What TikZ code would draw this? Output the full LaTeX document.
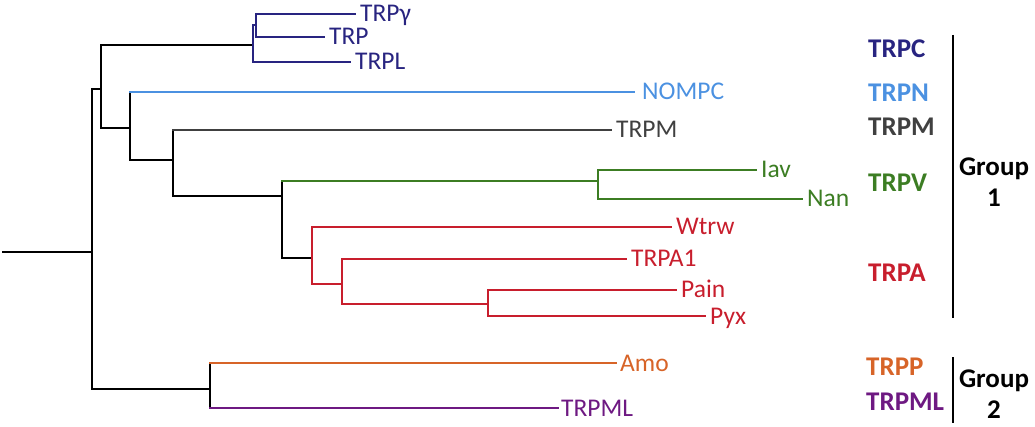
\documentclass[tikz,border=0pt]{standalone}
\usepackage{fontspec}
\setmainfont{Carlito}
\definecolor{cnavy}{RGB}{40,36,128}
\definecolor{cblue}{RGB}{75,145,225}
\definecolor{cgray}{RGB}{64,64,64}
\definecolor{cgreen}{RGB}{60,125,35}
\definecolor{cred}{RGB}{200,30,45}
\definecolor{corange}{RGB}{215,100,40}
\definecolor{cpurple}{RGB}{110,25,130}
\tikzset{
  br/.style={line width=2.2pt, line cap=rect},
  leaf/.style={anchor=west, inner xsep=5pt, inner ysep=0pt, text height=16pt, text depth=0pt, font=\fontsize{25.5}{30}\selectfont},
  clade/.style={anchor=west, inner sep=0pt, text height=17pt, text depth=0pt, font=\fontsize{27}{31}\selectfont\bfseries},
  grp/.style={align=center, inner sep=0pt, font=\fontsize{27}{31.5}\selectfont\bfseries},
  gline/.style={line width=2.2pt}
}
\begin{document}
\begin{tikzpicture}[x=1pt,y=-1pt]
\useasboundingbox (0,0) rectangle (1035,427);
% internal nodes
\coordinate (stub) at (3,252);
\coordinate (r) at (92,252);
\coordinate (a) at (101,89);
\coordinate (g2) at (210,389);
\coordinate (c) at (253,45);
\coordinate (cg) at (256,25);
\coordinate (b) at (130,128);
\coordinate (m) at (173,160);
\coordinate (va) at (282,196);
\coordinate (v) at (598,181);
\coordinate (a1) at (312,258);
\coordinate (a2) at (342,284);
\coordinate (p) at (488,304);
% leaves
\node[leaf, text=cnavy] (trpg) at (355,14) {TRPγ};
\node[leaf, text=cnavy] (trp) at (324,37) {TRP};
\node[leaf, text=cnavy] (trpl) at (350,62) {TRPL};
\node[leaf, text=cblue, inner xsep=8pt] (nompc) at (634,92) {NOMPC};
\node[leaf, text=cgray] (trpm) at (611,130) {TRPM};
\node[leaf, text=cgreen] (iav) at (756,170) {Iav};
\node[leaf, text=cgreen] (nan) at (802,199) {Nan};
\node[leaf, text=cred] (wtrw) at (671,227) {Wtrw};
\node[leaf, text=cred] (trpa1) at (626,259) {TRPA1};
\node[leaf, text=cred] (pain) at (676,290) {Pain};
\node[leaf, text=cred] (pyx) at (705,316) {Pyx};
\node[leaf, text=corange, inner xsep=4pt] (amo) at (616,363) {Amo};
\node[leaf, text=cpurple, inner xsep=3pt] (trpml) at (558,408) {TRPML};
% black backbone
\draw[br] (stub) -- (r);
\draw[br] (r |- a) -- (r |- g2);
\draw[br] (r |- a) -- (a);
\draw[br] (r |- g2) -- (g2);
\draw[br] (a |- c) -- (a |- b);
\draw[br] (a |- c) -- (c);
\draw[br] (a |- b) -- (b);
\draw[br] (b |- nompc.west) -- (b |- m);
\draw[br] (b |- m) -- (m);
\draw[br] (m |- trpm.west) -- (m |- va);
\draw[br] (m |- va) -- (va);
\draw[br] (va |- v) -- (va |- a1);
\draw[br] (va |- a1) -- (a1);
\draw[br] (g2 |- amo.west) -- (g2 |- trpml.west);
% TRPC
\draw[br, cnavy] (c |- cg) -- (c |- trpl.west);
\draw[br, cnavy] (c |- cg) -- (cg);
\draw[br, cnavy] (cg |- trpg.west) -- (cg |- trp.west);
\draw[br, cnavy] (cg |- trpg.west) -- (trpg.west);
\draw[br, cnavy] (cg |- trp.west) -- (trp.west);
\draw[br, cnavy] (c |- trpl.west) -- (trpl.west);
% TRPN, TRPM
\draw[br, cblue] (b |- nompc.west) -- (nompc.west);
\draw[br, cgray] (m |- trpm.west) -- (trpm.west);
% TRPV
\draw[br, cgreen] (va |- v) -- (v);
\draw[br, cgreen] (v |- iav.west) -- (v |- nan.west);
\draw[br, cgreen] (v |- iav.west) -- (iav.west);
\draw[br, cgreen] (v |- nan.west) -- (nan.west);
% TRPA
\draw[br, cred] (a1 |- wtrw.west) -- (a1 |- a2);
\draw[br, cred] (a1 |- wtrw.west) -- (wtrw.west);
\draw[br, cred] (a1 |- a2) -- (a2);
\draw[br, cred] (a2 |- trpa1.west) -- (a2 |- p);
\draw[br, cred] (a2 |- trpa1.west) -- (trpa1.west);
\draw[br, cred] (a2 |- p) -- (p);
\draw[br, cred] (p |- pain.west) -- (p |- pyx.west);
\draw[br, cred] (p |- pain.west) -- (pain.west);
\draw[br, cred] (p |- pyx.west) -- (pyx.west);
% TRPP, TRPML
\draw[br, corange] (g2 |- amo.west) -- (amo.west);
\draw[br, cpurple] (g2 |- trpml.west) -- (trpml.west);
% clade labels
\node[clade, text=cnavy] (lc) at (868,49) {TRPC};
\node[clade, text=cblue] (ln) at (868,93) {TRPN};
\node[clade, text=cgray] (lm) at (868,127) {TRPM};
\node[clade, text=cgreen] (lv) at (868,183) {TRPV};
\node[clade, text=cred] (la) at (868,273) {TRPA};
\node[clade, text=corange] (lp) at (866,367) {TRPP};
\node[clade, text=cpurple] (lml) at (866,402) {TRPML};
% group bars
\coordinate (g1t) at (953,35);
\coordinate (g1b) at (953,318);
\coordinate (g2t) at (953,357);
\coordinate (g2b) at (953,423);
\draw[gline] (g1t) -- (g1b);
\draw[gline] (g2t) -- (g2b);
\node[grp] (grp1) at (994,182) {Group\\1};
\node[grp] (grp2) at (994,394) {Group\\2};
\end{tikzpicture}
\end{document}
